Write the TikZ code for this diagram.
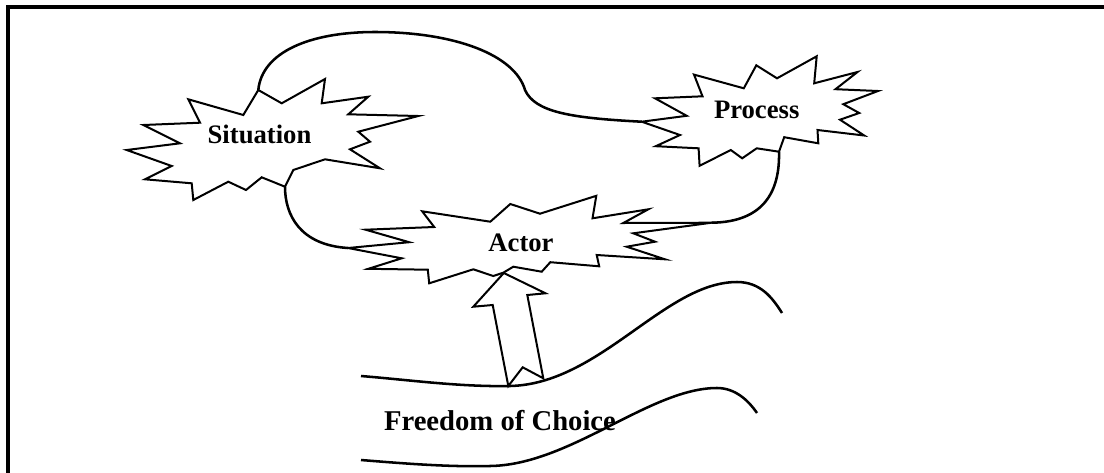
\documentclass[tikz,border=0pt]{standalone}
\usepackage{fontspec}
\setmainfont{Liberation Serif}
\begin{document}
\begin{tikzpicture}[x=0.75pt,y=-0.75pt,
  burst/.style={line width=1.5pt, line join=miter, miter limit=20, fill=white},
  link/.style={line width=1.9pt},
  wave/.style={line width=1.9pt},
  frameline/.style={line width=3pt},
  bigarrow/.style={line width=1.5pt, line join=miter, fill=white},
  lbl/.style={font=\fontsize{20}{24}\selectfont\bfseries, anchor=base, inner sep=0pt}]
\useasboundingbox (0,0) rectangle (1104,472);

% outer frame
\draw[frameline] (8,474) -- (8,7) -- (1106,7);

% junction points on the bursts
\coordinate (sitTop) at (258.3,90);
\coordinate (sitBot) at (285,186.7);
\coordinate (procL)  at (641.7,121.7);
\coordinate (procB)  at (779,151.7);
\coordinate (actL)   at (348,248);
\coordinate (actR)   at (711.7,222.7);

% links between the bursts
\draw[link] (sitTop) .. controls (262,52) and (310,32) .. (375,32)
  .. controls (455,32) and (515,55) .. (525,90)
  .. controls (535,112) and (570,118) .. (procL);
\draw[link] (sitBot) .. controls (285,215) and (300,245) .. (actL);
\draw[link] (procB) .. controls (780,190) and (765,222) .. (actR);

% Situation burst
\draw[burst] (188.3,99.3) -- (243.3,115) -- (sitTop) -- (281.7,103.3) -- (325,79)
  -- (321.7,103.3) -- (368.3,96.7) -- (348.3,114.3) -- (418.3,116) -- (358.3,131.7)
  -- (370,141.7) -- (350,149.3) -- (380,168.3) -- (325,159.3) -- (293.3,170)
  -- (sitBot) -- (261.7,177.3) -- (246,190) -- (228.3,181.7) -- (193.3,200)
  -- (191.7,183.3) -- (145,179.3) -- (171.7,166) -- (126.7,150) -- (180,143.3)
  -- (143.3,125) -- (200,122.7) -- cycle;

% Process burst
\draw[burst] (655,98.3) -- (702.5,96.3) -- (694,74.6) -- (743.8,88.3) -- (756.3,65.3)
  -- (777,78.3) -- (816.7,56.3) -- (814.2,83.3) -- (857.5,72) -- (835.5,89.2)
  -- (878,91) -- (843.3,104.2) -- (859.2,113) -- (840,119.7) -- (864.2,135.5)
  -- (817.5,130) -- (818.3,143.3) -- (784.2,137.2) -- (procB) -- (756.7,148.3)
  -- (742.2,158.3) -- (730.8,150) -- (699.6,165.8) -- (698.6,148.3) -- (655.8,146.2)
  -- (680,135) -- (procL) -- (686.7,115.8) -- cycle;

% Actor burst
\draw[burst] (actL) -- (409.2,242.2) -- (365.5,229.7) -- (434.2,227) -- (422.2,211.3)
  -- (490.3,221.7) -- (510.3,204) -- (540,213.7) -- (596.3,195.8) -- (592.5,218.3)
  -- (648.3,209.3) -- (623.3,223) -- (actR) -- (633.3,233.3) -- (655,241.7)
  -- (626.7,246.7) -- (665,259.3) -- (596.7,255) -- (599.2,266.3) -- (550.3,262.2)
  -- (541.7,271.7) -- (513.3,266.7) -- (503.3,272.7) -- (493.3,276) -- (473.3,269.3)
  -- (429.2,283.3) -- (427.8,269.7) -- (368.3,268.8) -- (401.7,258.3) -- cycle;

% upward block arrow from the choice band to the actor
\coordinate (arrTip) at (503.8,273);
\coordinate (arrL)   at (508.3,386);
\coordinate (arrR)   at (543.3,378.3);
\draw[bigarrow] (arrTip) -- (545.5,293.3) -- (527.3,295) -- (arrR) -- (522.7,367.3)
  -- (arrL) -- (492.7,305) -- (473.3,306.7) -- cycle;

% the two waves bounding the freedom of choice
\draw[wave] (361,376) .. controls (410,380) and (460,387) .. (510,386)
  .. controls (600,384) and (665,282) .. (737,282)
  .. controls (760,282) and (772,297) .. (782,313);
\draw[wave] (361,460) .. controls (410,464) and (450,467) .. (490,466)
  .. controls (570,465) and (650,388) .. (717,388)
  .. controls (735,388) and (748,400) .. (757,413);

% labels
\node[lbl] (situation) at (259.5,143) {Situation};
\node[lbl] (process)   at (756.7,118) {Process};
\node[lbl] (actor)     at (521,251.7) {Actor};
\node[lbl, font=\fontsize{21.5}{26}\selectfont\bfseries] (freedom) at (500,430) {Freedom of Choice};
\end{tikzpicture}
\end{document}
